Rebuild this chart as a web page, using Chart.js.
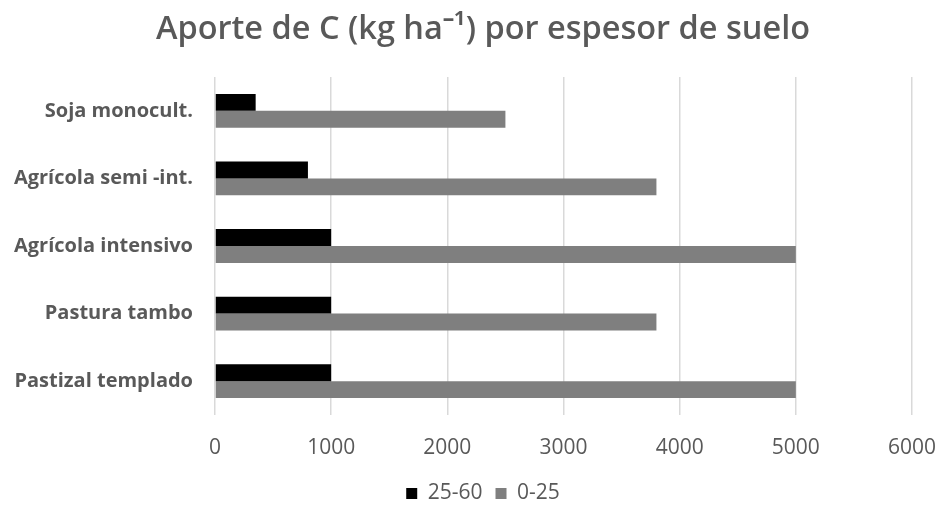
<!DOCTYPE html>
<html>
<head>
<meta charset="utf-8">
<script src="https://cdn.jsdelivr.net/npm/chart.js@4.4.1/dist/chart.umd.min.js"></script>
<style>
  html, body { margin: 0; padding: 0; background: #ffffff; }
  #wrap { width: 940px; height: 506px; position: relative; }
</style>
</head>
<body>
<div id="wrap"><canvas id="c" width="940" height="506"></canvas></div>
<script>
// Land uses, listed top to bottom
const categories = [
  'Soja monocult.',
  'Agrícola semi -int.',
  'Agrícola intensivo',
  'Pastura tambo',
  'Pastizal templado'
];
// Carbon input (kg ha-1) by soil depth layer
const deep_25_60 = [350, 800, 1000, 1000, 1000];
const top_0_25 = [2500, 3800, 5000, 3800, 5000];
const xTicks = [0, 1000, 2000, 3000, 4000, 5000, 6000];

const TEXT = '#595959';
const FONT = "'Open Sans', 'Liberation Sans', sans-serif";

new Chart(document.getElementById('c'), {
  type: 'bar',
  data: {
    labels: categories,
    datasets: [
      { label: '25-60', data: deep_25_60, backgroundColor: '#000000' },
      { label: '0-25', data: top_0_25, backgroundColor: '#7f7f7f' }
    ]
  },
  options: {
    indexAxis: 'y',
    responsive: false,
    animation: false,
    devicePixelRatio: 1,
    categoryPercentage: 0.5,
    barPercentage: 1.0,
    layout: { padding: { left: 54, right: 28, top: 0, bottom: -8 } },
    scales: {
      x: {
        min: 0,
        max: 6000,
        afterBuildTicks: (s) => { s.ticks = xTicks.map(v => ({ value: v })); },
        grid: { color: '#d9d9d9', lineWidth: 1.5, drawTicks: false },
        border: { display: false },
        ticks: {
          color: TEXT,
          font: { family: FONT, size: 21 },
          padding: 20,
          callback: (v) => String(v)
        },
        afterFit: (s) => { s.height = 55; s.paddingLeft = 0; s.paddingRight = 0; }
      },
      y: {
        grid: { display: false },
        border: { display: false },
        ticks: { color: TEXT, font: { family: FONT, size: 20, weight: '700' }, padding: 14 },
        afterFit: (s) => {
          s.width = 161;
          // long category names run past the axis box into the left margin
          s._computeLabelArea = () => undefined;
        }
      }
    },
    plugins: {
      title: {
        display: true,
        text: 'Aporte de C (kg ha⁻¹) por espesor de suelo',
        color: TEXT,
        font: { family: FONT, size: 32.5, weight: '600' },
        padding: { top: 10, bottom: 28 }
      },
      legend: {
        position: 'bottom',
        labels: {
          color: TEXT,
          font: { family: FONT, size: 21 },
          boxWidth: 11,
          boxHeight: 11,
          padding: 13
        }
      },
      tooltip: { enabled: false }
    }
  }
});
</script>
</body>
</html>
